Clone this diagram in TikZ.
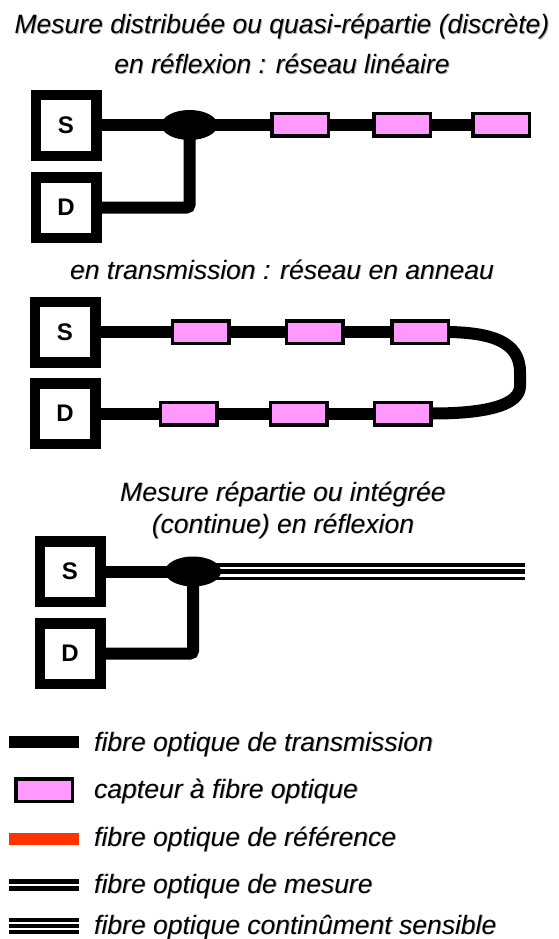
\documentclass[tikz,border=0pt]{standalone}
\usepackage{fontspec}
\setmainfont{Liberation Sans}
\usetikzlibrary{shapes.geometric}
\definecolor{capteur}{HTML}{FF99FF}
\definecolor{reference}{HTML}{FF3300}
\newcommand{\shadowed}[1]{\leavevmode\rlap{\kern0.9pt\raisebox{-0.9pt}{\textcolor{black!32}{#1}}}#1}
\tikzset{
  x=1pt,y=-1pt,
  unitbox/.style={draw=black,fill=white,line width=10.5pt,minimum width=60.5pt,minimum height=60.5pt,inner sep=0pt,font=\bfseries\fontsize{24}{28}\selectfont},
  sensor/.style={draw=black,fill=capteur,line width=3.5pt,minimum width=56.5pt,minimum height=22.5pt,inner sep=0pt},
  coupler/.style={ellipse,fill=black,minimum width=56pt,minimum height=30pt,inner sep=0pt},
  fibre/.style={draw=black,line width=12pt},
  thinf/.style={draw=black,line width=3.4pt},
  midf/.style={draw=black,line width=4.6pt},
  title/.style={anchor=base,inner sep=0pt,font=\itshape\fontsize{26.5}{30}\selectfont},
  legend/.style={anchor=base west,inner sep=0pt,font=\itshape\fontsize{26.5}{30}\selectfont},
}
\begin{document}
\begin{tikzpicture}
\useasboundingbox (0,0) rectangle (558,939);
% titles
\node[title] (t1) at (282,34) {\shadowed{Mesure distribuée ou quasi-répartie (discrète)}};
\node[title] (t2) at (282,74) {\shadowed{en réflexion : réseau linéaire}};
\node[title] (t3) at (282,279) {\shadowed{en transmission : réseau en anneau}};
\node[title] (t4) at (283,501) {\shadowed{Mesure répartie ou intégrée}};
\node[title] (t5) at (283,533) {\shadowed{(continue) en réflexion}};
% panel 1
\node[unitbox] (S1) at (66,125.5) {S};
\node[unitbox] (D1) at (66,207.5) {D};
\node[coupler] (E1) at (189.5,125) {};
\node[sensor] (A1) at (300,125) {};
\node[sensor] (A2) at (402,125) {};
\node[sensor] (A3) at (501,125) {};
\draw[fibre] (S1.east) -- (E1.center -| S1.east) -- (E1.center);
\draw[fibre] (E1.center) -- (A1.west);
\draw[fibre] (A1.east) -- (A2.west);
\draw[fibre] (A2.east) -- (A3.west);
\draw[fibre,rounded corners=3pt] (D1.east) -| (E1.center);
% panel 2
\node[unitbox] (S2) at (65,332) {S};
\node[unitbox] (D2) at (65,413.5) {D};
\node[sensor] (B1) at (200.5,332) {};
\node[sensor] (B2) at (314.5,332) {};
\node[sensor] (B3) at (420,332) {};
\node[sensor] (C1) at (188.5,413.5) {};
\node[sensor] (C2) at (298.5,413.5) {};
\node[sensor] (C3) at (402.5,413.5) {};
\coordinate (R1) at (520,372);
\coordinate (R2) at (520,386);
\draw[fibre] (S2.east) -- (B1.west);
\draw[fibre] (B1.east) -- (B2.west);
\draw[fibre] (B2.east) -- (B3.west);
\draw[fibre] (D2.east) -- (C1.west);
\draw[fibre] (C1.east) -- (C2.west);
\draw[fibre] (C2.east) -- (C3.west);
\draw[fibre] (B3.east) .. controls (490,333) and (520,341) .. (R1) -- (R2) .. controls (520,404) and (490,413.5) .. (C3.east);
% panel 3
\node[unitbox] (S3) at (70,571.5) {S};
\node[unitbox] (D3) at (70,653.5) {D};
\node[coupler] (E3) at (193,571.5) {};
\coordinate (F3) at (525,571.5);
\draw[fibre] (S3.east) -- (E3.center);
\draw[fibre,rounded corners=3pt] (D3.east) -| (E3.center);
\draw[thinf] ([yshift=-7pt]E3.center) -- ([yshift=-7pt]F3);
\draw[midf] (E3.center) -- (F3);
\draw[thinf] ([yshift=6.5pt]E3.center) -- ([yshift=6.5pt]F3);
% legend
\coordinate (L1a) at (9,742); \coordinate (L1b) at (79,742);
\coordinate (L3a) at (9,839); \coordinate (L3b) at (79,839);
\coordinate (L4a) at (9,885); \coordinate (L4b) at (79,885);
\coordinate (L5a) at (9,926); \coordinate (L5b) at (79,926);
\draw[fibre] (L1a) -- (L1b);
\node[sensor] (L2) at (44,790) {};
\draw[fibre,draw=reference] (L3a) -- (L3b);
\draw[midf] ([yshift=-3.6pt]L4a) -- ([yshift=-3.6pt]L4b);
\draw[midf] ([yshift=3.6pt]L4a) -- ([yshift=3.6pt]L4b);
\draw[thinf] ([yshift=-6pt]L5a) -- ([yshift=-6pt]L5b);
\draw[midf] (L5a) -- (L5b);
\draw[thinf] ([yshift=6pt]L5a) -- ([yshift=6pt]L5b);
\node[legend] (l1) at (94,751) {\shadowed{fibre optique de transmission}};
\node[legend] (l2) at (94,798) {\shadowed{capteur à fibre optique}};
\node[legend] (l3) at (94,846) {\shadowed{fibre optique de référence}};
\node[legend] (l4) at (94,893) {\shadowed{fibre optique de mesure}};
\node[legend] (l5) at (94,934) {\shadowed{fibre optique continûment sensible}};
\end{tikzpicture}
\end{document}
